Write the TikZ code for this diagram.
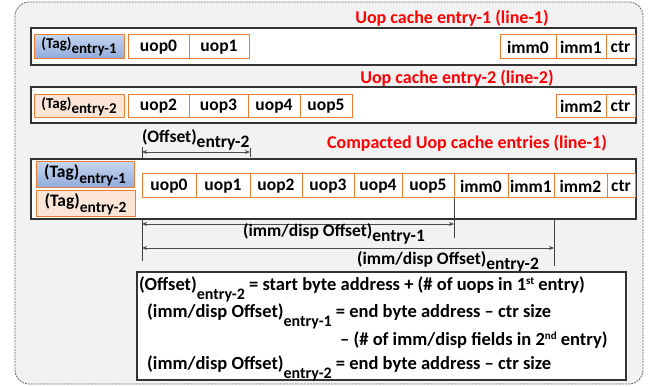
\documentclass[tikz,border=0pt]{standalone}
\usepackage{fontspec}
\setmainfont{Carlito}
\usepackage{tikz}
\usetikzlibrary{positioning}
\usetikzlibrary{arrows.meta}
\definecolor{cellorange}{HTML}{ED7D31}
\definecolor{tagblue}{HTML}{C5D5EF}
\definecolor{tagbluedark}{HTML}{8FAADC}
\definecolor{tagpeach}{HTML}{FBE5D6}
\definecolor{panelgray}{HTML}{F2F2F2}
\newcommand{\lowsub}[1]{\raisebox{-0.32em}{#1}}
\newcommand{\smallsub}[1]{\raisebox{-0.45em}{\fontsize{16}{18}\selectfont #1}}
\newcommand{\upsc}[1]{\raisebox{0.36em}{\fontsize{11}{12}\selectfont #1}}
\newcommand{\bigfont}{\fontsize{17.5}{20}\selectfont\bfseries}
\newcommand{\tagfont}{\fontsize{15}{17}\selectfont\bfseries}
\newcommand{\eqfont}{\fontsize{18.5}{21}\selectfont\bfseries}

\begin{document}
\begin{tikzpicture}[x=1pt,y=-1pt,font=\bigfont,
    cell/.style={draw=cellorange, line width=1pt, fill=white, minimum height=24, inner sep=0, outer sep=0},
    tagone/.style={cell, top color=tagblue, bottom color=tagbluedark},
    tagtwo/.style={cell, fill=tagpeach},
    rowbox/.style={draw=black!80, line width=1.2pt, fill=white},
    title/.style={text=red, font=\fontsize{18}{20}\selectfont\bfseries, inner sep=0},
    lbl/.style={anchor=west, inner sep=0},
    eqline/.style={anchor=base west, inner sep=0, font=\eqfont},
    tick/.style={draw=black!75, line width=0.8pt},
    conn/.style={<->, >={Stealth[length=5pt,width=4pt]}, draw=black!70, line width=0.7pt}]
\useasboundingbox (0,0) rectangle (649,387);
% background panel
\draw[draw=black!60, fill=panelgray, line width=0.8pt, dash pattern=on 2pt off 1pt, rounded corners=14pt] (15,2) rectangle (643,384);

% line 1
\node[title] (t1) at (452,18) {Uop cache entry-1 (line-1)};
\draw[rowbox] (31,28) rectangle (636,65);
\node[tagone, minimum width=90, font=\tagfont] (a1tag) at (79,47) {(Tag)\lowsub{entry-1}};
\node[cell, anchor=west, minimum width=61] (a1u0) at (128,47) {uop0};
\node[cell, minimum width=60, right=0pt of a1u0] (a1u1) {uop1};
\node[cell, anchor=west, minimum width=56] (a1m0) at (500,47) {imm0};
\node[cell, minimum width=50, right=0pt of a1m0] (a1m1) {imm1};
\node[cell, minimum width=29, right=0pt of a1m1] (a1ctr) {ctr};

% line 2
\node[title] (t2) at (457,78) {Uop cache entry-2 (line-2)};
\draw[rowbox] (31,87) rectangle (636,123);
\node[tagtwo, minimum width=90, minimum height=23, font=\tagfont] (a2tag) at (79,106.5) {(Tag)\lowsub{entry-2}};
\node[cell, anchor=west, minimum width=61, minimum height=23] (a2u2) at (128,106.5) {uop2};
\node[cell, minimum width=59, minimum height=23, right=0pt of a2u2] (a2u3) {uop3};
\node[cell, minimum width=52, minimum height=23, right=0pt of a2u3] (a2u4) {uop4};
\node[cell, minimum width=52, minimum height=23, right=0pt of a2u4] (a2u5) {uop5};
\node[cell, anchor=west, minimum width=50, minimum height=23] (a2m2) at (556,106.5) {imm2};
\node[cell, minimum width=29, minimum height=23, right=0pt of a2m2] (a2ctr) {ctr};

% offset guides
\coordinate (baseTop) at (142,147);
\coordinate (baseBot) at (142,261);
\coordinate (lvlOff) at (0,152);
\coordinate (lvlOffA) at (0,148);
\coordinate (lvlOffB) at (0,157);
\coordinate (lvlOne) at (0,224);
\coordinate (lvlOneEnd) at (0,238);
\coordinate (lvlTwo) at (0,248);
\coordinate (lvlTwoEnd) at (0,266);
\draw[tick] (baseTop) -- (baseBot);

% compacted line
\node[title] (t3) at (467,143) {Compacted Uop cache entries (line-1)};
\draw[rowbox] (31,159) rectangle (636,219);
\node[tagone, minimum width=98, minimum height=26] (c1tag) at (85,175) {(Tag)\lowsub{\fontsize{15.5}{18}\selectfont entry-1}};
\node[tagtwo, minimum width=99, minimum height=26] (c2tag) at (85.5,204) {(Tag)\lowsub{\fontsize{15.5}{18}\selectfont entry-2}};
\node[cell, anchor=west, minimum width=54] (c0) at (142,186) {uop0};
\node[cell, minimum width=54, right=0pt of c0] (c1) {uop1};
\node[cell, minimum width=52, right=0pt of c1] (c2) {uop2};
\node[cell, minimum width=52, right=0pt of c2] (c3) {uop3};
\node[cell, minimum width=48, right=0pt of c3] (c4) {uop4};
\node[cell, minimum width=52, right=0pt of c4] (c5) {uop5};
\node[cell, minimum width=54, right=0pt of c5] (c6) {imm0};
\node[cell, minimum width=46, right=0pt of c6] (c7) {imm1};
\node[cell, minimum width=53, right=0pt of c7] (c8) {imm2};
\node[cell, minimum width=28, right=0pt of c8] (c9) {ctr};

% offsets
\node[lbl] (offlbl) at (142,140) {(Offset)\lowsub{entry-2}};
\draw[tick] (c1.east |- lvlOffA) -- (c1.east |- lvlOffB);
\draw[conn] (baseTop |- lvlOff) -- (c1.east |- lvlOff);
\draw[tick] (c5.south east) -- (c5.east |- lvlOneEnd);
\draw[conn] (baseTop |- lvlOne) -- (c5.east |- lvlOne);
\node[lbl] (imm1lbl) at (243,234) {(imm/disp Offset)\lowsub{entry-1}};
\draw[tick] (c7.south east |- 0,219) -- (c7.east |- lvlTwoEnd);
\draw[conn] (baseTop |- lvlTwo) -- (c7.east |- lvlTwo);
\node[lbl] (imm2lbl) at (357,262) {(imm/disp Offset)\lowsub{entry-2}};

% formulas
\draw[draw=black!80, line width=1.2pt, fill=white] (137,272) rectangle (626,380);
\node[eqline] (f1) at (139,291) {(Offset)\smallsub{entry-2} = start byte address + (\# of uops in 1\upsc{st} entry)};
\node[eqline] (f2) at (147,318) {(imm/disp Offset)\smallsub{entry-1} = end byte address -- ctr size};
\node[eqline] (f3) at (340,346) {-- (\# of imm/disp fields in 2\upsc{nd} entry)};
\node[eqline] (f4) at (147,370) {(imm/disp Offset)\smallsub{entry-2} = end byte address -- ctr size};
\end{tikzpicture}
\end{document}
